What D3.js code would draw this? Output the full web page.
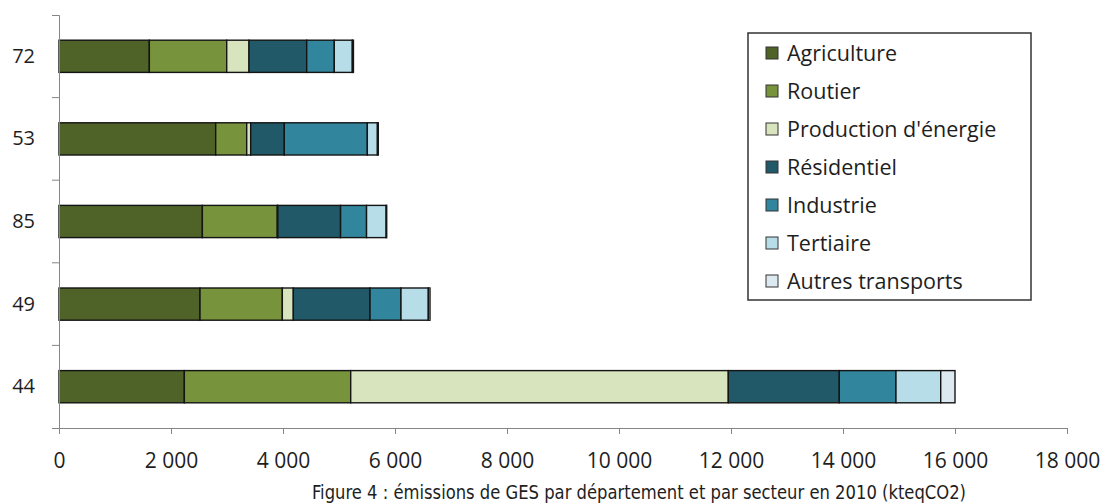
<!DOCTYPE html>
<html lang="fr">
<head>
<meta charset="utf-8">
<title>Émissions de GES par département</title>
<script src="https://d3js.org/d3.v7.min.js"></script>
<style>
  body { margin: 0; background: #fff; }
  svg text { font-family: "Open Sans", sans-serif; fill: #1e1e1e; }
  .axis path, .axis line { stroke: #868686; }
  .caption { font-family: "DejaVu Sans Condensed", "DejaVu Sans", sans-serif; }
</style>
</head>
<body>
<svg id="chart"></svg>
<script>
  var width = 1105,
      height = 504;

  // départements, de haut en bas
  var departements = ["72", "53", "85", "49", "44"];
  var secteurs = ["Agriculture", "Routier", "Production d'énergie", "Résidentiel", "Industrie", "Tertiaire", "Autres transports"];
  var couleurs = ["#4f6228", "#77933c", "#d7e4bd", "#215968", "#31859c", "#b7dee8", "#dde9f1"];

  // kteqCO2 par secteur (même ordre que secteurs)
  var emis72 = [1613, 1382, 398, 1030, 493, 322, 20];
  var emis53 = [2798, 554, 71, 600, 1483, 180, 16];
  var emis85 = [2560, 1338, 10, 1120, 464, 350, 10];
  var emis49 = [2518, 1470, 196, 1370, 553, 488, 30];
  var emis44 = [2238, 2971, 6743, 1982, 1012, 799, 255];
  var emissions = [emis72, emis53, emis85, emis49, emis44];

  var xTicks = [0, 2000, 4000, 6000, 8000, 10000, 12000, 14000, 16000, 18000];

  var svg = d3.select("#chart")
      .attr("width", width)
      .attr("height", height);

  var x = d3.scaleLinear().domain([0, 18000]).range([59, 1067]);
  var y = d3.scaleBand().domain(departements).range([15, 428])
      .paddingInner(0.61).paddingOuter(0.305);

  var fmt = d3.formatLocale({decimal: ",", thousands: " ", grouping: [3], currency: ["", " €"]}).format(",d");

  // barres empilées
  var rows = departements.map(function(d, i) {
    var acc = 0;
    return emissions[i].map(function(v, j) {
      var seg = {dep: d, sect: j, x0: acc, x1: acc + v};
      acc += v;
      return seg;
    });
  });

  svg.selectAll(".bar")
    .data(rows)
    .enter().append("g")
      .attr("class", "bar")
    .selectAll("rect")
    .data(function(d) { return d; })
    .enter().append("rect")
      .attr("x", function(d) { return x(d.x0); })
      .attr("y", function(d) { return y(d.dep); })
      .attr("width", function(d) { return x(d.x1) - x(d.x0); })
      .attr("height", y.bandwidth())
      .attr("fill", function(d) { return couleurs[d.sect]; })
      .attr("stroke", "#141414")
      .attr("stroke-width", 1.4);

  // axe x
  svg.append("g")
      .attr("class", "axis")
      .attr("transform", "translate(0,428)")
      .call(d3.axisBottom(x).tickValues(xTicks).tickFormat(fmt).tickSize(6).tickSizeOuter(0).tickPadding(19))
      .call(function(g) { g.selectAll("text").style("font-size", "21px").attr("fill", "#1e1e1e"); });

  // axe y
  var gy = svg.append("g")
      .attr("class", "axis")
      .attr("transform", "translate(59,0)")
      .call(d3.axisLeft(y).tickSize(0).tickSizeOuter(7).tickPadding(24))
      .call(function(g) { g.selectAll("text").style("font-size", "20px").attr("fill", "#1e1e1e"); });

  // graduations entre catégories
  gy.selectAll(".sep")
    .data(departements.slice(1))
    .enter().append("line")
      .attr("class", "sep")
      .attr("x1", -7).attr("x2", 0)
      .attr("y1", function(d) { return y(d) - y.step() * y.paddingInner() / 2; })
      .attr("y2", function(d) { return y(d) - y.step() * y.paddingInner() / 2; });

  // légende
  var legend = svg.append("g").attr("transform", "translate(748,33)");
  legend.append("rect")
      .attr("width", 283).attr("height", 267)
      .attr("fill", "#fff")
      .attr("stroke", "#333").attr("stroke-width", 1.5);

  var item = legend.selectAll(".item")
    .data(secteurs)
    .enter().append("g")
      .attr("class", "item")
      .attr("transform", function(d, i) { return "translate(18," + (20 + i * 38) + ")"; });

  item.append("rect")
      .attr("x", 0).attr("y", -6)
      .attr("width", 12).attr("height", 12)
      .attr("fill", function(d, i) { return couleurs[i]; })
      .attr("stroke", "#333").attr("stroke-width", 1);

  item.append("text")
      .attr("x", 21)
      .attr("dy", "0.36em")
      .style("font-size", "21.5px")
      .text(function(d) { return d; });

  // légende de la figure
  svg.append("text")
      .attr("class", "caption")
      .attr("x", 312).attr("y", 499)
      .attr("textLength", 654)
      .attr("lengthAdjust", "spacingAndGlyphs")
      .style("font-size", "19px")
      .text("Figure 4 : émissions de GES par département et par secteur en 2010 (kteqCO2)");
</script>
</body>
</html>
